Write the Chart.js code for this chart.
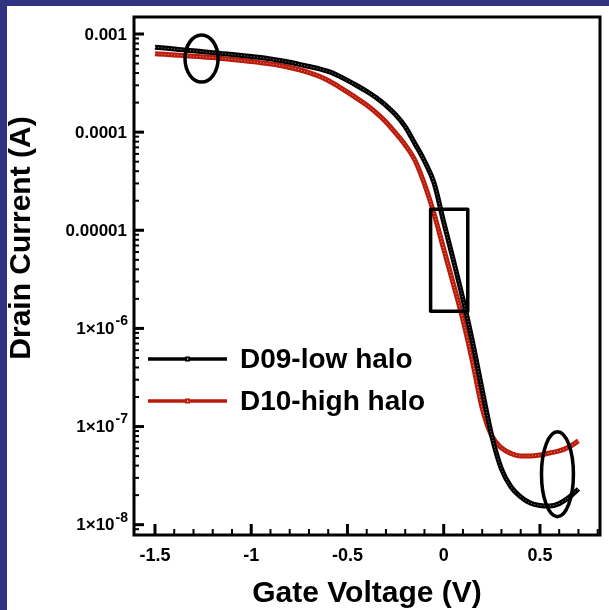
<!DOCTYPE html>
<html>
<head>
<meta charset="utf-8">
<script src="https://cdn.jsdelivr.net/npm/chart.js@4.4.0/dist/chart.umd.min.js"></script>
<style>
html,body{margin:0;padding:0;background:#fff;overflow:hidden}
canvas{display:block}
</style>
</head>
<body>
<canvas id="c" width="609" height="610" style="width:609px;height:610px"></canvas>
<script>
// ---------- data ----------
const gateVoltage = [-1.5,-1.45,-1.4,-1.35,-1.3,-1.25,-1.2,-1.15,-1.1,-1.05,-1.0,
  -0.95,-0.9,-0.85,-0.8,-0.75,-0.7,-0.65,-0.6,-0.55,-0.5,
  -0.45,-0.4,-0.35,-0.3,-0.25,-0.2,-0.15,-0.1,-0.05,0,
  0.05,0.1,0.15,0.2,0.25,0.3,0.35,0.4,0.45,0.5,
  0.55,0.6,0.65,0.7];
const d09LowHalo = [7.32e-4,7.18e-4,7.03e-4,6.89e-4,6.74e-4,6.60e-4,6.46e-4,6.31e-4,6.18e-4,6.04e-4,5.90e-4,
  5.75e-4,5.58e-4,5.38e-4,5.16e-4,4.90e-4,4.66e-4,4.44e-4,4.15e-4,3.78e-4,3.37e-4,
  2.97e-4,2.60e-4,2.24e-4,1.87e-4,1.51e-4,1.14e-4,7.66e-5,5.08e-5,3.03e-5,1.21e-5,
  4.98e-6,1.99e-6,7.27e-7,2.36e-7,8.0e-8,3.70e-8,2.42e-8,1.92e-8,1.66e-8,1.57e-8,
  1.55e-8,1.64e-8,1.89e-8,2.31e-8];
const d10HighHalo = [6.30e-4,6.21e-4,6.12e-4,6.02e-4,5.94e-4,5.84e-4,5.75e-4,5.63e-4,5.51e-4,5.38e-4,5.25e-4,
  5.10e-4,4.95e-4,4.78e-4,4.56e-4,4.32e-4,4.05e-4,3.73e-4,3.36e-4,2.95e-4,2.56e-4,
  2.20e-4,1.89e-4,1.57e-4,1.27e-4,9.80e-5,7.40e-5,5.20e-5,2.96e-5,1.47e-5,6.45e-6,
  2.84e-6,1.22e-6,4.55e-7,1.545e-7,8.02e-8,6.05e-8,5.31e-8,5.01e-8,5.01e-8,5.13e-8,
  5.38e-8,5.64e-8,6.19e-8,7.13e-8];
const seriesNames = ['D09-low halo', 'D10-high halo'];
const xTickValues = [-1.5, -1, -0.5, 0, 0.5];
const xTickLabels = ['-1.5', '-1', '-0.5', '0', '0.5'];
const yTickValues = [1e-8, 1e-7, 1e-6, 1e-5, 1e-4, 1e-3];
const yTickLabels = ['1×10^-8', '1×10^-7', '1×10^-6', '0.00001', '0.0001', '0.001'];
const xTitle = 'Gate Voltage (V)';
const yTitle = 'Drain Current (A)';
// annotation marks, in data units
const markRect = {x0: -0.068, x1: 0.125, y0: 1.5e-6, y1: 1.64e-5};
const markEllipses = [
  {cx: -1.258, cy: Math.pow(10, -3.25), rx: 0.086, ryDecades: 0.24},
  {cx: 0.591, cy: Math.pow(10, -7.485), rx: 0.083, ryDecades: 0.433}
];

// ---------- styles ----------
const FONT = '"Liberation Sans", Arial, Helvetica, sans-serif';
const BLACK = '#000000';
const RED = '#bb1b0b';
const FRAME_BLUE = '#2f3380';

const toPts = arr => gateVoltage.map((v, i) => ({x: v, y: arr[i]}));

const decor = {
  id: 'decor',
  beforeDraw(chart) {
    const ctx = chart.ctx;
    ctx.save();
    ctx.fillStyle = FRAME_BLUE;
    ctx.fillRect(0, 0, chart.width, chart.height);
    ctx.fillStyle = '#ffffff';
    ctx.fillRect(7, 6, chart.width - 7, chart.height - 6);
    ctx.restore();
  },
  afterDatasetsDraw(chart) {
    const ctx = chart.ctx, xs = chart.scales.x, ys = chart.scales.y, a = chart.chartArea;
    ctx.save();
    ctx.strokeStyle = BLACK;
    // annotation rectangle
    ctx.lineWidth = 3.5;
    ctx.lineJoin = 'round';
    const rx0 = xs.getPixelForValue(markRect.x0), rx1 = xs.getPixelForValue(markRect.x1);
    const ry0 = ys.getPixelForValue(markRect.y0), ry1 = ys.getPixelForValue(markRect.y1);
    ctx.strokeRect(rx0, ry1, rx1 - rx0, ry0 - ry1);
    // annotation ellipses
    markEllipses.forEach(e => {
      const cx = xs.getPixelForValue(e.cx), cy = ys.getPixelForValue(e.cy);
      const rx = Math.abs(xs.getPixelForValue(e.cx + e.rx) - cx);
      const ry = Math.abs(ys.getPixelForValue(e.cy * Math.pow(10, e.ryDecades)) - cy);
      ctx.beginPath();
      ctx.ellipse(cx, cy, rx, ry, 0, 0, Math.PI * 2);
      ctx.stroke();
    });
    // inward ticks, bottom axis
    ctx.lineCap = 'butt';
    for (let k = -16; k <= 8; k++) {
      const v = k / 10, p = xs.getPixelForValue(v);
      if (p < a.left + 2 || p > a.right - 2) continue;
      const major = (k % 5 === 0);
      ctx.lineWidth = major ? 3 : 2;
      ctx.beginPath();
      ctx.moveTo(p, a.bottom);
      ctx.lineTo(p, a.bottom - (major ? 11 : 6));
      ctx.stroke();
    }
    // inward ticks, left axis
    for (let e = -9; e <= -3; e++) {
      for (let m = 1; m <= 9; m++) {
        const v = m * Math.pow(10, e);
        if (v < ys.min || v > ys.max) continue;
        const p = ys.getPixelForValue(v);
        if (p > a.bottom - 1 || p < a.top + 1) continue;
        const major = (m === 1);
        ctx.lineWidth = major ? 3 : 2;
        ctx.beginPath();
        ctx.moveTo(a.left, p);
        ctx.lineTo(a.left + (major ? 10 : 5), p);
        ctx.stroke();
      }
    }
    // frame
    ctx.lineWidth = 3;
    ctx.lineJoin = 'miter';
    ctx.strokeRect(a.left, a.top, a.right - a.left, a.bottom - a.top);
    ctx.restore();
  },
  afterDraw(chart) {
    const ctx = chart.ctx, a = chart.chartArea, ys = chart.scales.y;
    ctx.save();
    // y tick labels with superscript exponents
    ctx.fillStyle = BLACK;
    ctx.textBaseline = 'middle';
    yTickValues.forEach((v, i) => {
      const p = ys.getPixelForValue(v);
      const parts = yTickLabels[i].split('^');
      const right = a.left - 7;
      let expW = 0;
      if (parts.length > 1) {
        ctx.font = 'bold 14px ' + FONT;
        expW = ctx.measureText(parts[1]).width;
        ctx.textAlign = 'left';
        ctx.fillText(parts[1], right - expW + 1, p - 7);
      }
      ctx.font = 'bold 17px ' + FONT;
      ctx.textAlign = 'right';
      ctx.fillText(parts[0], right - expW, p + 1);
    });
    // legend
    const items = [{name: seriesNames[0], color: BLACK}, {name: seriesNames[1], color: RED}];
    items.forEach((it, i) => {
      const y = 359 + i * 42;
      ctx.strokeStyle = it.color;
      ctx.lineWidth = 3.5;
      ctx.beginPath();
      ctx.moveTo(a.left + 14, y);
      ctx.lineTo(a.left + 93, y);
      ctx.stroke();
      ctx.fillStyle = it.color;
      ctx.fillRect(a.left + 51, y - 2.5, 5, 5);
      ctx.fillStyle = '#ffffff';
      ctx.fillRect(a.left + 53, y - 0.5, 1.2, 1.2);
      ctx.fillStyle = BLACK;
      ctx.font = 'bold 28px ' + FONT;
      ctx.textAlign = 'left';
      ctx.textBaseline = 'middle';
      ctx.fillText(it.name, a.left + 106, y + 1);
    });
    // y axis title
    ctx.translate(22, 238);
    ctx.rotate(-Math.PI / 2);
    ctx.fillStyle = BLACK;
    ctx.font = 'bold 30px ' + FONT;
    ctx.textAlign = 'center';
    ctx.textBaseline = 'middle';
    ctx.fillText(yTitle, 0, 0);
    ctx.restore();
  }
};

const lineDS = (label, arr, color, order) => ({
  label, data: toPts(arr), borderColor: color, backgroundColor: color,
  borderWidth: 5, pointRadius: 0, cubicInterpolationMode: 'monotone', order
});
const dotDS = (arr, order) => ({
  label: '', data: toPts(arr), borderColor: 'rgba(255,255,255,0.55)',
  borderWidth: 1, borderDash: [1, 2.2], pointRadius: 0, cubicInterpolationMode: 'monotone', order
});

new Chart(document.getElementById('c'), {
  type: 'line',
  data: {
    datasets: [
      dotDS(d09LowHalo, 0),
      lineDS(seriesNames[0], d09LowHalo, BLACK, 1),
      dotDS(d10HighHalo, 2),
      lineDS(seriesNames[1], d10HighHalo, RED, 3)
    ]
  },
  plugins: [decor],
  options: {
    responsive: false,
    animation: false,
    devicePixelRatio: 1,
    layout: {padding: {left: 0, top: 17, right: 9, bottom: 0}},
    plugins: {legend: {display: false}, tooltip: {enabled: false}},
    scales: {
      x: {
        type: 'linear', min: -1.609, max: 0.812,
        grid: {display: false, drawTicks: false},
        border: {display: false},
        afterBuildTicks: s => { s.ticks = xTickValues.map(v => ({value: v})); },
        afterFit: s => { s.height = 75; },
        ticks: {
          autoSkip: false, maxRotation: 0, padding: 10, color: BLACK,
          font: {family: FONT, size: 18, weight: 'bold'},
          callback: v => xTickLabels[xTickValues.indexOf(v)]
        },
        title: {
          display: true, text: xTitle, color: BLACK,
          font: {family: FONT, size: 30, weight: 'bold', lineHeight: 1},
          padding: {top: 0, bottom: 1}
        }
      },
      y: {
        type: 'logarithmic', min: 7.85e-9, max: 1.49e-3,
        grid: {display: false, drawTicks: false},
        border: {display: false},
        afterBuildTicks: s => { s.ticks = yTickValues.map(v => ({value: v})); },
        afterFit: s => { s.width = 134; },
        ticks: {display: false}
      }
    }
  }
});
</script>
</body>
</html>
